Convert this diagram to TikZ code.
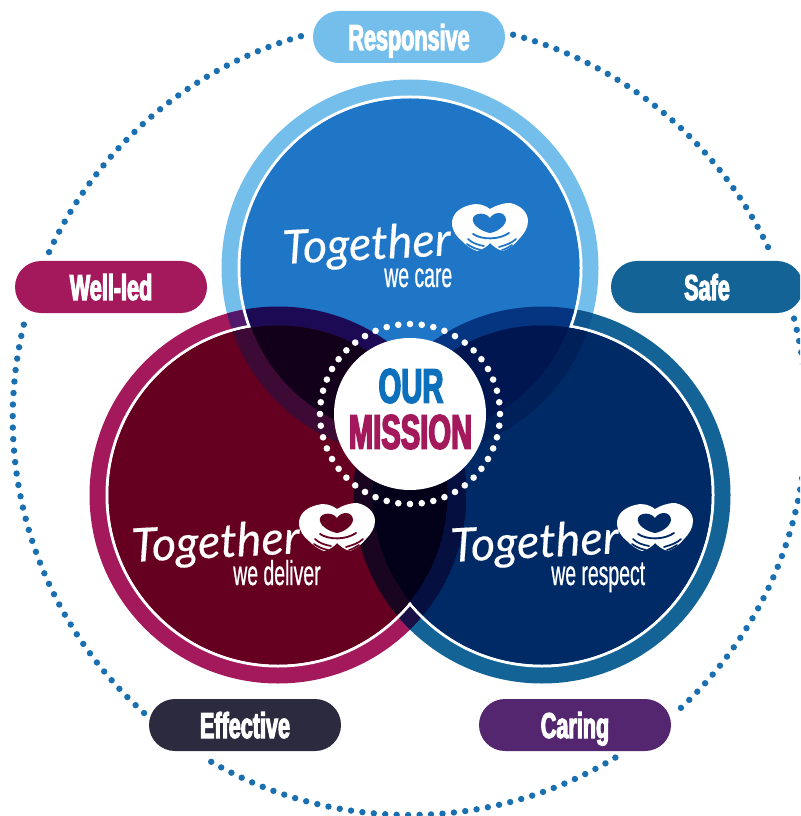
\documentclass[tikz,border=0pt]{standalone}
\usepackage{fontspec}
\setmainfont{Liberation Sans}
\newfontfamily\heavyfont[FakeStretch=0.6,FakeBold=3]{Liberation Sans}
\newfontfamily\thinfont[FakeStretch=0.56,FakeBold=0.6]{Liberation Sans}
\newfontfamily\scriptish[FakeBold=0.3]{Lato}
\definecolor{ringT}{HTML}{74BEEC}
\definecolor{ringL}{HTML}{A3195B}
\definecolor{ringR}{HTML}{136397}
\definecolor{coreT}{HTML}{1F75C6}
\definecolor{coreL}{HTML}{660020}
\definecolor{coreR}{HTML}{002A66}
\definecolor{dotblue}{HTML}{1A6FB0}
\definecolor{effective}{HTML}{2C2A3E}
\definecolor{caring}{HTML}{54266F}
\definecolor{ourblue}{HTML}{0D70BC}
\definecolor{rrTL}{HTML}{52186A}
\definecolor{rrTR}{HTML}{0F5590}
\definecolor{rrLR}{HTML}{1A1045}
\definecolor{crTL}{HTML}{1C0A55}
\definecolor{rcTL}{HTML}{3D0A35}
\definecolor{ccTL}{HTML}{12001A}
\definecolor{crTR}{HTML}{053580}
\definecolor{rcTR}{HTML}{00205A}
\definecolor{ccTR}{HTML}{001650}
\definecolor{crLR}{HTML}{1A0520}
\definecolor{rcLR}{HTML}{050F40}
\definecolor{ccLR}{HTML}{03001A}
\tikzset{
  pill/.style={rounded corners=19.5pt,minimum width=144pt,minimum height=39pt,inner sep=0pt,
    text height=19.5pt,text depth=0pt,
    text=white,font=\heavyfont\bfseries\fontsize{27}{27}\selectfont},
  bigword/.style={inner sep=0pt,font=\heavyfont\bfseries\fontsize{36.5}{36.5}\selectfont},
  togetherword/.style={inner sep=0pt,anchor=base west,text=white,rotate=3,
    font=\scriptish\itshape\fontsize{35}{35}\selectfont},
  weword/.style={inner sep=0pt,anchor=base west,text=white,font=\thinfont\fontsize{26}{26}\selectfont}
}
\newcommand{\lensfill}[5]{\begin{scope}\clip (#1) circle[radius=#2];\clip (#3) circle[radius=#4];\fill[#5] (#1) circle[radius=#2];\end{scope}}
\newcommand{\dotarc}[2]{%
  \pgfmathtruncatemacro{\nd}{round((#2-#1)/1.653)}%
  \foreach \i in {0,...,\nd}{%
    \pgfmathsetmacro{\ang}{#1+\i*(#2-#1)/\nd}%
    \fill[dotblue] ({409.7+397*cos(\ang)},{418-397*sin(\ang)}) circle[radius=3.2];}}
\newcommand{\handslogo}[4]{% x y fingercolour heartcolour
  \begin{scope}[shift={(#1,#2)}]
    \fill[white] (38,6) .. controls (31,1) and (24,0) .. (18,2)
      .. controls (6,5) and (0,12) .. (0,20)
      .. controls (0,28) and (5,34) .. (10,38)
      .. controls (14,42) and (19,46) .. (25,48)
      .. controls (30,47) and (36,43) .. (38,40)
      .. controls (41,43) and (46,47) .. (51,48)
      .. controls (57,46) and (63,41) .. (67,36)
      .. controls (72,31) and (76,25) .. (76,18)
      .. controls (76,9) and (68,2) .. (58,0)
      .. controls (50,0) and (43,3) .. (38,6) -- cycle;
    \fill[#4] (38,15) .. controls (35,11) and (30,10) .. (26,11)
      .. controls (22,12) and (20,15) .. (21,18)
      .. controls (22,24) and (32,29) .. (38,30)
      .. controls (44,29) and (53,24) .. (54,17)
      .. controls (54,13) and (51,10) .. (47,10)
      .. controls (43,10) and (40,12) .. (38,15) -- cycle;
    \draw[#3,line width=1.4pt,line cap=round] (21,31) .. controls (30,37) and (47,37) .. (57,30);
    \draw[#3,line width=1.3pt,line cap=round] (16,36) .. controls (20,40) and (26,42) .. (32,43);
    \draw[#3,line width=1.3pt,line cap=round] (15,41) .. controls (19,44) and (24,46) .. (29,47);
    \draw[#3,line width=1.3pt,line cap=round] (64,36) .. controls (60,40) and (54,42) .. (47,44);
    \draw[#3,line width=1.3pt,line cap=round] (60,42) .. controls (57,44) and (54,46) .. (50,47);
  \end{scope}}
\begin{document}
\begin{tikzpicture}[x=0.75pt,y=-0.75pt]
\useasboundingbox (0,0) rectangle (800,816);
\clip (0,0) rectangle (800,816);
\coordinate (T) at (410,268);
\coordinate (L) at (278,495);
\coordinate (R) at (542,495);
\coordinate (C) at (410,414);
% outer dotted circle
\dotarc{105.9}{155.3}
\dotarc{166.4}{228}
\dotarc{240}{301.2}
\dotarc{313.1}{374.5}
\dotarc{25.5}{74.9}
% coloured rings
\fill[ringT] (T) circle[radius=188.5];
\fill[ringL] (L) circle[radius=188.5];
\fill[ringR] (R) circle[radius=188.5];
\lensfill{T}{188.5}{L}{188.5}{rrTL}
\lensfill{T}{188.5}{R}{188.5}{rrTR}
\lensfill{L}{188.5}{R}{188.5}{rrLR}
% white lines
\draw[white,line width=2.25pt] (T) circle[radius=171];
\draw[white,line width=2.25pt] (L) circle[radius=171];
\draw[white,line width=2.25pt] (R) circle[radius=171];
% cores
\fill[coreT] (T) circle[radius=169.5];
\fill[coreL] (L) circle[radius=169.5];
\fill[coreR] (R) circle[radius=169.5];
% top-left overlaps
\lensfill{T}{169.5}{L}{188.5}{crTL}
\lensfill{T}{188.5}{L}{169.5}{rcTL}
\lensfill{T}{169.5}{L}{169.5}{ccTL}
% top-right overlaps
\lensfill{T}{169.5}{R}{188.5}{crTR}
\lensfill{T}{188.5}{R}{169.5}{rcTR}
\lensfill{T}{169.5}{R}{169.5}{ccTR}
% bottom overlaps
\lensfill{L}{169.5}{R}{188.5}{crLR}
\lensfill{L}{188.5}{R}{169.5}{rcLR}
\lensfill{L}{169.5}{R}{169.5}{ccLR}
% centre
\fill[white] (C) circle[radius=76];
\foreach \a in {0,7.5,...,352.5}{\fill[white] ([shift={(\a:90)}]C) circle[radius=3.3];}
\node[bigword,text=ourblue] (our) at (411,386) {OUR};
\node[bigword,text=ringL] (mission) at (410.5,432) {MISSION};
% pills
\node[pill,fill=ringT] (responsive) at (409,37) {Responsive};
\node[pill,fill=ringL] (wellled) at (111,287) {Well-led};
\node[pill,fill=ringR] (safe) at (707,287) {Safe};
\node[pill,fill=effective] (effectivep) at (245,725) {Effective};
\node[pill,fill=caring] (caringp) at (575,725) {Caring};
% logos
\handslogo{452}{203}{coreT}{coreT}
\handslogo{299}{503}{coreL}{coreL}
\handslogo{617}{503}{coreR}{coreR}
\node[togetherword] (t1) at (283,264) {Together};
\node[weword] (w1) at (384,287) {we care};
\node[togetherword] (t2) at (132,562) {Together};
\node[weword] (w2) at (233,585) {we deliver};
\node[togetherword] (t3) at (451,562) {Together};
\node[weword] (w3) at (551,585) {we respect};
\end{tikzpicture}
\end{document}
